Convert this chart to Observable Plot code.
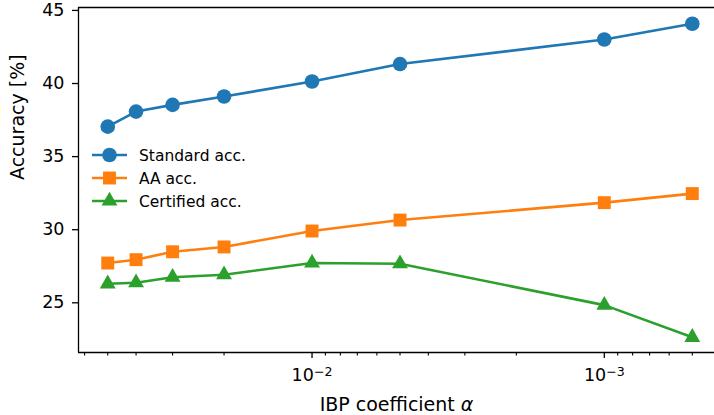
<!DOCTYPE html>
<html><head><meta charset="utf-8">
<script src="https://cdn.jsdelivr.net/npm/d3@7"></script>
<script src="https://cdn.jsdelivr.net/npm/@observablehq/plot@0.6"></script>
<style>
body{margin:0;background:#fff;overflow:hidden;}
#wrap{position:relative;width:714px;height:415px;}
</style></head><body><div id="wrap"></div>
<script>
// ---- data ----
const alphas = [0.05, 0.04, 0.03, 0.02, 0.01, 0.005, 0.001, 0.0005];
const standardAcc = [37.05, 38.08, 38.54, 39.11, 40.14, 41.33, 43.01, 44.09];
const aaAcc = [27.72, 27.95, 28.49, 28.82, 29.91, 30.66, 31.85, 32.47];
const certifiedAcc = [26.30, 26.37, 26.75, 26.92, 27.72, 27.67, 24.84, 22.64];
const seriesNames = ["Standard acc.", "AA acc.", "Certified acc."];
const seriesColors = ["#1f77b4", "#ff7f0e", "#2ca02c"];
const seriesSymbols = ["circle", "square", "triangle"];
const yTicks = [25, 30, 35, 40, 45];
const xMajorTicks = [0.01, 0.001];
const xMajorLabels = ["10^-2", "10^-3"];
const xMinorTicks = [0.06, 0.05, 0.04, 0.03, 0.02,
  0.009, 0.008, 0.007, 0.006, 0.005, 0.004, 0.003, 0.002,
  0.0009, 0.0008, 0.0007, 0.0006, 0.0005];
const xLabel = "IBP coefficient α";
const yLabel = "Accuracy [%]";

const seriesValues = [standardAcc, aaAcc, certifiedAcc];
const rows = [];
seriesNames.forEach((s, k) => alphas.forEach((a, i) => rows.push({series: s, alpha: a, acc: seriesValues[k][i]})));

const xDomain = [10 ** -1.201, 10 ** -3.377];
const yDomain = [21.6, 45.2];
const FONT = "DejaVu Sans";
const symR = {circle: 7.3, square: 7.3, triangle: 5.9};

const marks = [
  Plot.axisY({ticks: yTicks, tickSize: 6, tickPadding: 8, label: null, fontSize: 17.5, strokeWidth: 1.3, tickFormat: d => String(d)}),
  Plot.axisX({ticks: xMinorTicks, tickSize: 3.5, tickFormat: () => "", label: null, strokeWidth: 1.1}),
  Plot.axisX({ticks: xMajorTicks, tickSize: 6, tickPadding: 10, label: null, fontSize: 17.5, strokeWidth: 1.3,
    tickFormat: d => xMajorLabels[xMajorTicks.indexOf(d)]}),
  Plot.ruleX([xDomain[0]], {stroke: "black", strokeWidth: 1.3}),
  Plot.ruleY(yDomain, {stroke: "black", strokeWidth: 1.3}),
];
seriesNames.forEach((s, k) => {
  const d = rows.filter(r => r.series === s);
  marks.push(Plot.line(d, {x: "alpha", y: "acc", stroke: seriesColors[k], strokeWidth: 2.6}));
  marks.push(Plot.dot(d, {x: "alpha", y: "acc", fill: seriesColors[k], stroke: "none", symbol: seriesSymbols[k], r: symR[seriesSymbols[k]]}));
});
marks.push(Plot.text([xLabel], {frameAnchor: "bottom", dy: 58, fontSize: 19, lineAnchor: "bottom", fill: "black"}));
marks.push(Plot.text([yLabel], {frameAnchor: "left", dx: -55, rotate: -90, fontSize: 19, lineAnchor: "bottom", fill: "black"}));

const chart = Plot.plot({
  width: 714, height: 415,
  marginLeft: 78, marginTop: 7, marginBottom: 63, marginRight: 0,
  style: {fontFamily: FONT, color: "#000", background: "white"},
  x: {type: "log", domain: xDomain},
  y: {domain: yDomain},
  marks
});
document.getElementById("wrap").appendChild(chart);

// superscript tick labels like matplotlib mathtext
d3.select(chart).selectAll("text").each(function () {
  const t = this.textContent;
  const m = /^10\^(-?\d+)$/.exec(t);
  if (m) {
    const sel = d3.select(this);
    sel.text("");
    sel.append("tspan").text("10");
    sel.append("tspan").attr("dy", "-0.42em").attr("font-size", "0.72em").text(m[1].replace("-", "\u2212"));
  }
  if (t === xLabel) {
    const sel = d3.select(this);
    sel.text("");
    sel.append("tspan").text("IBP coefficient ");
    sel.append("tspan").attr("font-style", "italic").text("α");
  }
});

// legend (inside the axes, upper-left area)
const svg = d3.select(chart);
const lg = svg.append("g").attr("font-family", FONT).attr("font-size", 15.5).attr("text-anchor", "start");
const legendY = [155, 178, 201];
seriesNames.forEach((s, k) => {
  const y = legendY[k];
  lg.append("line").attr("x1", 92).attr("x2", 127).attr("y1", y).attr("y2", y)
    .attr("stroke", seriesColors[k]).attr("stroke-width", 2.6);
  const sym = {circle: d3.symbolCircle, square: d3.symbolSquare, triangle: d3.symbolTriangle}[seriesSymbols[k]];
  const r = symR[seriesSymbols[k]];
  lg.append("path").attr("d", d3.symbol(sym, r * r * Math.PI)()).attr("transform", `translate(109.5,${y})`)
    .attr("fill", seriesColors[k]);
  lg.append("text").attr("x", 139).attr("y", y).attr("dy", "0.36em").attr("fill", "black")
    .attr("text-anchor", "start").text(s);
});
</script>
</body></html>
